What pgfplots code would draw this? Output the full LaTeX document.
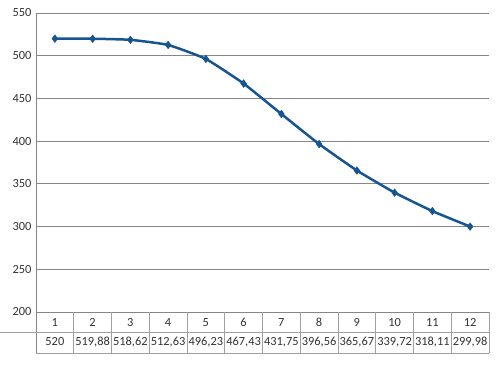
\documentclass[border=0pt]{standalone}
\usepackage{pgfplots}
\pgfplotsset{compat=1.18}
\usepackage{fontspec}
\setmainfont{Carlito}
\definecolor{linec}{RGB}{22,84,146}
\definecolor{gridc}{RGB}{134,134,134}
\definecolor{tabc}{RGB}{160,160,160}
\definecolor{txtc}{RGB}{50,50,50}
\begin{document}
\begin{tikzpicture}[x=1pt,y=1pt]
\useasboundingbox (0,0) rectangle (500,365);
\begin{axis}[
  at={(36pt,53pt)}, anchor=south west,
  scale only axis, width=453pt, height=299pt,
  xmin=0.5, xmax=12.5, ymin=200, ymax=550,
  xtick=\empty,
  ytick={200,250,...,550},
  ymajorgrids, grid style={gridc, line width=0.9pt},
  axis line style={draw=none},
  major tick length=0pt,
  tick label style={font=\fontsize{12.4}{14}\selectfont, text=txtc},
  /pgf/number format/assume math mode=true,
  yticklabel style={xshift=-1pt},
  clip=false,
]
\addplot[linec, line width=2.5pt, smooth, tension=0.25, mark=diamond*, mark size=3.8pt, mark options={fill=linec, line width=0.5pt}]
coordinates {(1,520) (2,519.88) (3,518.62) (4,512.63) (5,496.23) (6,467.43) (7,431.75) (8,396.56) (9,365.67) (10,339.72) (11,318.11) (12,299.98)};
\end{axis}
% frame and data table
\draw[gridc, line width=0.9pt] (36,352) -- (36,12);
\draw[tabc, line width=0.8pt] (0,33) -- (489,33);
\draw[tabc, line width=0.8pt] (36,12) -- (489,12);
\foreach \k in {1,...,12} {
  \draw[tabc, line width=0.8pt] ({36+\k*37.75},53) -- ({36+\k*37.75},12);
}
\foreach \v [count=\i] in {520,{519,88},{518,62},{512,63},{496,23},{467,43},{431,75},{396,56},{365,67},{339,72},{318,11},{299,98}} {
  \node[font=\fontsize{12.4}{14}\selectfont, text=txtc] at ({36+(\i-0.5)*37.75},42.5) {\i};
  \node[font=\fontsize{12.4}{14}\selectfont, text=txtc] at ({36+(\i-0.5)*37.75},23) {\v};
}
\end{tikzpicture}
\end{document}
